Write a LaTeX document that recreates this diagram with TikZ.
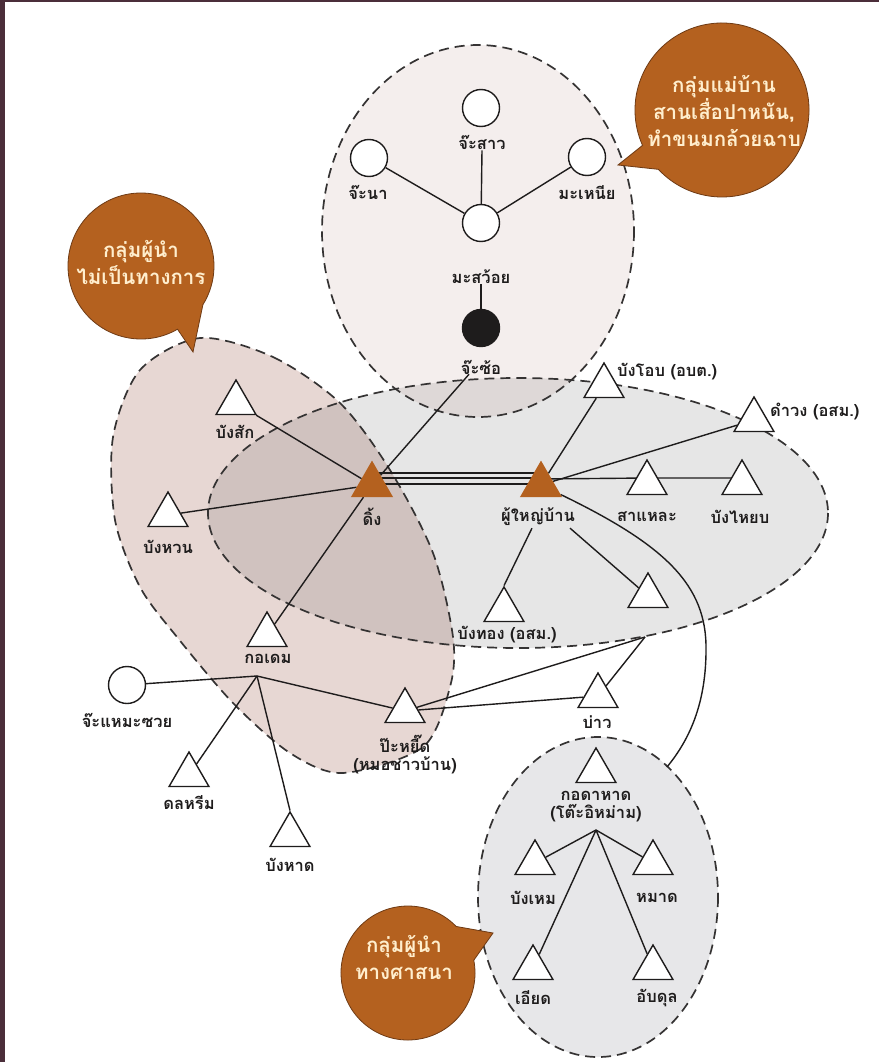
\documentclass[tikz,border=0pt]{standalone}
\usepackage{fontspec}
\newfontfamily\thaifont[Script=Thai]{Loma}
\usetikzlibrary{shapes.geometric,calc}
\definecolor{brn}{RGB}{180,97,31}
\definecolor{brndark}{RGB}{110,58,20}
\definecolor{cream}{RGB}{255,238,205}
\definecolor{frame}{RGB}{75,46,58}
\definecolor{topfill}{RGB}{244,238,237}
\definecolor{grayfill}{RGB}{230,230,230}
\definecolor{leftfill}{RGB}{231,215,211}
\definecolor{ovlA}{RGB}{208,194,191}
\definecolor{ovlB}{RGB}{222,216,215}
\definecolor{botfill}{RGB}{231,231,233}
\definecolor{ink}{RGB}{30,28,28}
\pgfdeclarelayer{bg}
\pgfdeclarelayer{ln}
\pgfsetlayers{bg,ln,main}
\tikzset{
  tri/.style={regular polygon, regular polygon sides=3, minimum size=46pt, inner sep=0pt, draw=ink, fill=white, line width=1.4pt},
  btri/.style={tri, fill=brn, draw=brn},
  cir/.style={circle, draw=ink, fill=white, minimum size=37pt, inner sep=0pt, line width=1.4pt},
  bcir/.style={cir, fill=ink},
  lab/.style={font=\thaifont\bfseries\fontsize{16.5}{18}\selectfont, inner sep=0pt, text=ink, align=center},
  bubtext/.style={font=\thaifont\bfseries\fontsize{20.5}{27}\selectfont, inner sep=0pt, text=cream, align=center},
  grpline/.style={draw=ink!90, line width=1.7pt, dash pattern=on 10pt off 6pt},
  bub/.style={fill=brn, draw=brndark, line width=0.8pt},
  conn/.style={draw=ink, line width=1.4pt}
}
\begin{document}
\begin{tikzpicture}[x=1pt,y=-1pt]
\useasboundingbox (0,0) rectangle (879,1062);

% ---------- page and group areas ----------
\begin{pgfonlayer}{bg}
\fill[white] (0,0) rectangle (879,1062);
\fill[frame] (0,0) rectangle (5,1062);
\fill[frame] (0,0) rectangle (879,2);
\fill[topfill] (478,231) ellipse [x radius=156, y radius=186];
\fill[grayfill] (518,513) ellipse [x radius=310, y radius=135];
\fill[leftfill] plot[smooth cycle] coordinates {(200,338) (273,357) (340,403) (390,470) (433,553) (453,637) (450,687) (423,747) (343,773) (290,753) (233,703) (177,637) (140,587) (115,520) (113,437) (140,370)};
\fill[botfill] (598,897) ellipse [x radius=120, y radius=160];
\begin{scope}
\clip (518,513) ellipse [x radius=310, y radius=135];
\fill[ovlA] plot[smooth cycle] coordinates {(200,338) (273,357) (340,403) (390,470) (433,553) (453,637) (450,687) (423,747) (343,773) (290,753) (233,703) (177,637) (140,587) (115,520) (113,437) (140,370)};
\end{scope}
\begin{scope}
\clip (478,231) ellipse [x radius=156, y radius=186];
\fill[ovlB] (518,513) ellipse [x radius=310, y radius=135];
\end{scope}
\path[grpline] (478,231) ellipse [x radius=156, y radius=186];
\path[grpline] (518,513) ellipse [x radius=310, y radius=135];
\path[grpline] plot[smooth cycle] coordinates {(200,338) (273,357) (340,403) (390,470) (433,553) (453,637) (450,687) (423,747) (343,773) (290,753) (233,703) (177,637) (140,587) (115,520) (113,437) (140,370)};
\path[grpline] (598,897) ellipse [x radius=120, y radius=160];
\end{pgfonlayer}

% ---------- callouts ----------
\path[bub] (618,165) -- ($(722,110)+(156:87)$) arc[start angle=156, end angle=497, radius=87] -- cycle;
\node[bubtext] (b1) at (724,111) {กลุ่มแม่บ้าน\\สานเสื่อปาหนัน,\\ทำขนมกล้วยฉาบ};
\path[bub] (193,352) -- ($(141,266)+(60:73)$) arc[start angle=60, end angle=392, radius=73] -- cycle;
\node[bubtext] (b2) at (141,262) {กลุ่มผู้นำ\\ไม่เป็นทางการ};
\path[bub] (493,933) -- ($(408,973)+(-11:67)$) arc[start angle=-11, end angle=316, radius=67] -- cycle;
\node[bubtext] (b3) at (404,957) {กลุ่มผู้นำ\\ทางศาสนา};

% ---------- women's group ----------
\node[cir] (cs) at (481,108) {};
\node[lab] (csL) at (482,143) {จ๊ะสาว};
\node[cir] (cn) at (369,158) {};
\node[lab] (cnL) at (368,192) {จ๊ะนา};
\node[cir] (mn) at (587,157) {};
\node[lab] (mnL) at (587,193) {มะเหนีย};
\node[cir] (ms) at (481,223) {};
\node[lab] (msL) at (481,277) {มะสว้อย};
\node[bcir] (cso) at (481,328) {};
\node[lab] (csoL) at (481,367) {จ๊ะซ้อ};

% ---------- informal leaders / main ----------
\node[tri] (bs) at (236,403) {};
\node[lab] (bsL) at (235,432) {บังสัก};
\node[btri] (ding) at (372,485) {};
\node[lab] (dingL) at (372,517) {ดิ้ง};
\node[tri] (bw) at (168,515) {};
\node[lab] (bwL) at (168,547) {บังหวน};
\node[btri] (pyb) at (541,485) {};
\node[lab] (pybL) at (538,517) {ผู้ใหญ่บ้าน};
\node[tri] (bo) at (604,386) {};
\node[lab, anchor=west] (boL) at (617,372) {บังโอบ (อบต.)};
\node[tri] (dw) at (754,420) {};
\node[lab, anchor=west] (dwL) at (770,412) {ดำวง (อสม.)};
\node[tri] (sl) at (647,483) {};
\node[lab] (slL) at (647,517) {สาแหละ};
\node[tri] (byb) at (742,483) {};
\node[lab] (bybL) at (740,517) {บังไหยบ};
\node[tri] (bt) at (504,610) {};
\node[lab] (btL) at (507,635) {บังทอง (อสม.)};
\node[tri] (un) at (648,596) {};
\coordinate (unj) at (645,637);
\node[tri] (kd) at (267,635) {};
\node[lab] (kdL) at (268,659) {กอเดม};
\coordinate (kdj) at (257,676);
\node[cir] (cms) at (127,685) {};
\node[lab] (cmsL) at (127,720) {จ๊ะแหมะซวย};
\node[tri] (dl) at (189,775) {};
\node[lab] (dlL) at (189,803) {ดลหรีม};
\node[tri] (bh) at (290,835) {};
\node[lab] (bhL) at (290,865) {บังหาด};
\node[tri] (pyd) at (405,711) {};
\node[lab] (pydL) at (405,754) {ป๊ะหยี๊ด\\(หมอชาวบ้าน)};
\node[tri] (bao) at (598,696) {};
\node[lab] (baoL) at (597,722) {บ่าว};

% ---------- religious leaders ----------
\node[tri] (kdh) at (596,771) {};
\node[lab] (kdhL) at (596,807) {กอดาหาด\\(โต๊ะอิหม่าม)};
\coordinate (kdhj) at (596,830);
\node[tri] (bm) at (535,863) {};
\node[lab] (bmL) at (533,898) {บังเหม};
\node[tri] (md) at (653,863) {};
\node[lab] (mdL) at (657,898) {หมาด};
\node[tri] (ey) at (533,968) {};
\node[lab] (eyL) at (533,998) {เอียด};
\node[tri] (ab) at (653,968) {};
\node[lab] (abL) at (657,998) {อับดุล};
\coordinate (kend) at (667,767);

% ---------- connectors ----------
\begin{pgfonlayer}{ln}
\draw[conn] (cn) -- (ms);
\draw[conn] (mn) -- (ms);
\draw[conn] (csL.south) -- (ms);
\draw[conn] (msL.south) -- (cso);
\draw[conn] ($(csoL.south)+(-12,0)$) -- (ding);
\draw[conn] (bs) -- (ding);
\draw[conn] (bw) -- (ding);
\draw[conn] (ding) -- (kd);
\draw[conn] ($(ding)+(0,-12)$) -- ($(pyb)+(0,-12)$);
\draw[conn] ($(ding)+(0,-7)$) -- ($(pyb)+(0,-7)$);
\draw[conn] ($(ding)+(0,-1)$) -- ($(pyb)+(0,-1)$);
\draw[conn] (pyb) -- (bo);
\draw[conn] (pyb) -- (dw);
\draw[conn] ($(pyb)+(0,-6)$) -- ($(sl)+(0,-5)$) -- ($(byb)+(0,-5)$);
\draw[conn] ($(pybL.south)+(-6,2)$) -- (bt.corner 1);
\draw[conn] ($(pybL.south)+(32,2)$) -- (un);
\draw[conn] (pyb) .. controls (665,545) and (707,585) .. (706,650) .. controls (706,710) and (685,745) .. (kend);
\draw[conn] (cms) -- (kdj);
\draw[conn] (kdj) -- (pyd);
\draw[conn] (kdj) -- (dl);
\draw[conn] (kdj) -- (bh.corner 1);
\draw[conn] (pyd) -- (bao);
\draw[conn] (pyd) -- (unj);
\draw[conn] (bao) -- (unj);
\draw[conn] (kdhj) -- (bm);
\draw[conn] (kdhj) -- (md);
\draw[conn] (kdhj) -- (ey);
\draw[conn] (kdhj) -- (ab);
\end{pgfonlayer}
\end{tikzpicture}
\end{document}
